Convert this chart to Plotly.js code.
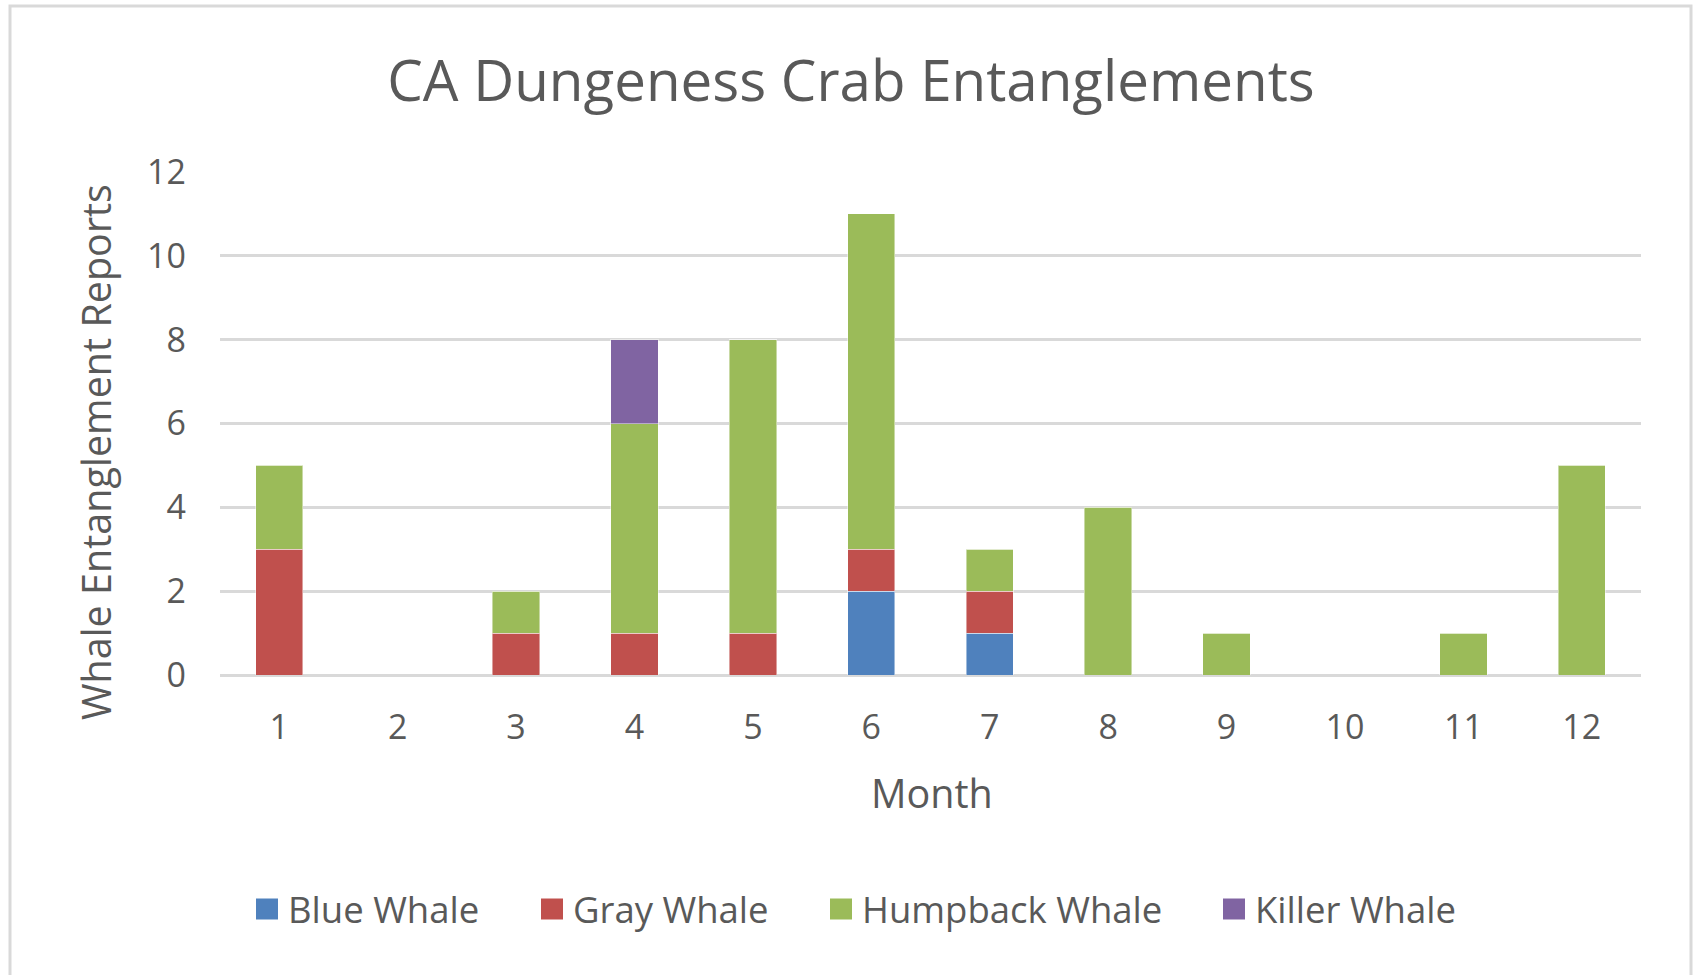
<!DOCTYPE html>
<html>
<head>
<meta charset="utf-8">
<script src="https://cdn.plot.ly/plotly-3.0.1.min.js"></script>
<style>html,body{margin:0;padding:0;background:#fff;overflow:hidden}</style>
</head>
<body>
<div id="chart" style="width:1694px;height:975px"></div>
<script>
// ---- data ----
const months = ['1','2','3','4','5','6','7','8','9','10','11','12'];
const seriesNames = ['Blue Whale', 'Gray Whale', 'Humpback Whale', 'Killer Whale'];
const blueWhale     = [0, 0, 0, 0, 0, 2, 1, 0, 0, 0, 0, 0];
const grayWhale     = [3, 0, 1, 1, 1, 1, 1, 0, 0, 0, 0, 0];
const humpbackWhale = [2, 0, 1, 5, 7, 8, 1, 4, 1, 0, 1, 5];
const killerWhale   = [0, 0, 0, 2, 0, 0, 0, 0, 0, 0, 0, 0];
const yTickValues = [0, 2, 4, 6, 8, 10, 12];
const chartTitle = 'CA Dungeness Crab Entanglements';
const xAxisTitle = 'Month';
const yAxisTitle = 'Whale Entanglement Reports';

// ---- styles / layout constants ----
const seriesColors = ['#4f81bd', '#c0504d', '#9bbb59', '#8064a2'];
const W = 1694, H = 975;
const M = {l: 220, r: 53, t: 172, b: 300};
const textColor = '#595959';
const FONT = '"Open Sans", "Noto Sans", sans-serif';
const legendSwatchLeft = [256, 541, 830, 1223];
const legendCenterY = 909;

const plotW = W - M.l - M.r, plotH = H - M.t - M.b;
const px2x = px => (px - M.l) / plotW;
const py2y = py => (H - M.b - py) / plotH;

const seriesValues = [blueWhale, grayWhale, humpbackWhale, killerWhale];
const traces = seriesValues.map((vals, i) => ({
  type: 'bar',
  name: seriesNames[i],
  x: months,
  y: vals,
  marker: {color: seriesColors[i], line: {color: 'rgba(255,255,255,0.45)', width: 1}},
  showlegend: false,
  hoverinfo: 'x+y+name'
}));

const shapes = [
  // outer chart frame
  {type: 'rect', xref: 'paper', yref: 'paper',
   x0: px2x(10), x1: px2x(1691), y0: py2y(6), y1: py2y(985),
   line: {color: '#d9d9d9', width: 3}, fillcolor: 'rgba(0,0,0,0)', layer: 'below'}
];
const annotations = [
  {text: yAxisTitle, xref: 'paper', yref: 'paper', x: px2x(96), y: py2y(452),
   textangle: -90, showarrow: false, xanchor: 'center', yanchor: 'middle',
   font: {family: FONT, size: 39.5, color: textColor}},
  {text: xAxisTitle, xref: 'paper', yref: 'paper', x: px2x(932), y: py2y(793),
   showarrow: false, xanchor: 'center', yanchor: 'middle',
   font: {family: FONT, size: 39.5, color: textColor}}
];
seriesNames.forEach((name, i) => {
  const x0 = legendSwatchLeft[i];
  shapes.push({type: 'rect', xref: 'paper', yref: 'paper',
    x0: px2x(x0), x1: px2x(x0 + 22), y0: py2y(legendCenterY - 10.5), y1: py2y(legendCenterY + 10.5),
    fillcolor: seriesColors[i], line: {width: 0}});
  annotations.push({text: name, xref: 'paper', yref: 'paper', x: px2x(x0 + 30),
    y: py2y(legendCenterY), showarrow: false, xanchor: 'left', yanchor: 'middle',
    font: {family: FONT, size: 36.5, color: textColor}});
});

const layout = {
  width: W, height: H,
  margin: M,
  paper_bgcolor: '#ffffff', plot_bgcolor: '#ffffff',
  font: {family: FONT, color: textColor},
  title: {text: chartTitle, xref: 'container', x: 0.5 + 4 / W, yref: 'container', y: 1 - 81 / H,
          xanchor: 'center', yanchor: 'middle', font: {family: FONT, size: 56.5, color: textColor}},
  barmode: 'stack',
  bargap: 0.6,
  showlegend: false,
  xaxis: {type: 'category', showgrid: false, zeroline: false, showline: false, ticks: '',
          tickfont: {family: FONT, size: 34, color: textColor}, ticklabelstandoff: 29},
  yaxis: {range: [0, 12], tickvals: yTickValues, showgrid: true, gridcolor: '#d9d9d9', gridwidth: 2.5,
          zeroline: true, zerolinecolor: '#d9d9d9', zerolinewidth: 2.5, showline: false, ticks: '',
          tickfont: {family: FONT, size: 34, color: textColor}, ticklabelstandoff: 33},
  shapes: shapes,
  annotations: annotations
};

Plotly.newPlot('chart', traces, layout, {displayModeBar: false, staticPlot: false});
</script>
</body>
</html>
